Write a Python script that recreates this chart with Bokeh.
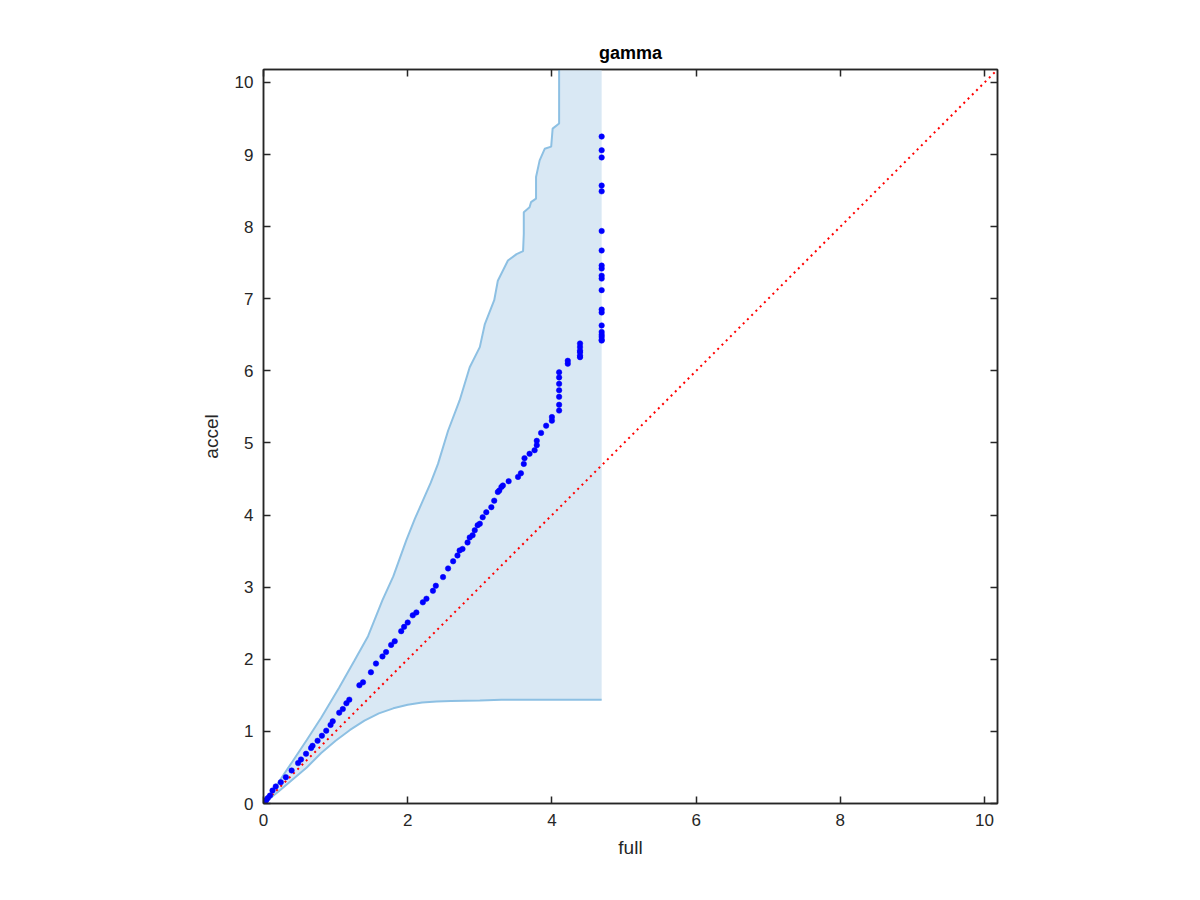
from bokeh.plotting import figure
from bokeh.models import Range1d, LinearAxis, FixedTicker
from bokeh.embed import file_html
from bokeh.resources import INLINE

# ---------------- data ----------------
x_max = 10.18
y_max = 10.18
diag = [0, 10.18]

upper_x = [0, 0.2, 0.4, 0.6, 0.8, 1.05, 1.26, 1.45, 1.65, 1.80, 1.98, 2.10, 2.21, 2.32,
           2.42, 2.56, 2.72, 2.86, 3.00, 3.07, 3.20, 3.25, 3.39, 3.51, 3.60, 3.61, 3.61,
           3.69, 3.71, 3.78, 3.78, 3.83, 3.90, 3.99, 4.01, 4.10, 4.10]
upper_y = [0, 0.28, 0.58, 0.88, 1.19, 1.61, 1.98, 2.32, 2.82, 3.15, 3.65, 3.95, 4.20, 4.45,
           4.71, 5.17, 5.59, 6.05, 6.33, 6.65, 6.98, 7.25, 7.53, 7.62, 7.66, 7.90, 8.20,
           8.27, 8.34, 8.39, 8.69, 8.92, 9.08, 9.11, 9.36, 9.43, 10.8]

lower_x = [0, 0.2, 0.4, 0.6, 0.8, 1.0, 1.2, 1.4, 1.6, 1.8, 2.0, 2.2, 2.4, 2.6, 2.8, 3.0, 3.3, 4.69]
lower_y = [0, 0.16, 0.33, 0.50, 0.70, 0.87, 1.02, 1.15, 1.25, 1.32, 1.37, 1.40, 1.415, 1.42,
           1.425, 1.43, 1.44, 1.44]

pts_x = [0.0, 0.02, 0.04, 0.06, 0.09, 0.125, 0.17, 0.24, 0.31, 0.39, 0.48, 0.52, 0.59, 0.66,
         0.68, 0.75, 0.81, 0.87, 0.93, 0.96, 1.05, 1.10, 1.15, 1.19, 1.33, 1.38, 1.49, 1.56,
         1.65, 1.70, 1.77, 1.82, 1.91, 1.95, 2.00, 2.07, 2.12, 2.21, 2.26, 2.35, 2.39, 2.49,
         2.56, 2.63, 2.69, 2.72, 2.76, 2.83, 2.86, 2.90, 2.93, 2.97, 3.00, 3.04, 3.09, 3.16,
         3.20, 3.25, 3.27, 3.30, 3.32, 3.40, 3.53, 3.57, 3.61, 3.62, 3.69, 3.76, 3.79, 3.79,
         3.85, 3.92, 4.00, 4.00, 4.10, 4.10, 4.10, 4.10, 4.10, 4.10, 4.10, 4.22, 4.22,
         4.39, 4.39, 4.39, 4.39, 4.39, 4.39,
         4.69, 4.69, 4.69, 4.69, 4.69, 4.69, 4.69, 4.69, 4.69, 4.69, 4.69, 4.69, 4.69,
         4.69, 4.69, 4.69, 4.69, 4.69, 4.69, 4.69]
pts_y = [0.0, 0.025, 0.05, 0.075, 0.11, 0.18, 0.236, 0.295, 0.365, 0.458, 0.56, 0.61, 0.69,
         0.77, 0.80, 0.87, 0.94, 1.01, 1.09, 1.14, 1.26, 1.31, 1.39, 1.44, 1.64, 1.68, 1.82,
         1.94, 2.04, 2.10, 2.20, 2.25, 2.39, 2.45, 2.51, 2.61, 2.65, 2.79, 2.84, 2.95, 3.02,
         3.14, 3.26, 3.36, 3.44, 3.51, 3.53, 3.62, 3.69, 3.72, 3.79, 3.86, 3.88, 3.97, 4.04,
         4.11, 4.20, 4.32, 4.34, 4.39, 4.41, 4.47, 4.53, 4.58, 4.71, 4.79, 4.85, 4.90, 4.97,
         5.03, 5.14, 5.24, 5.31, 5.36, 5.45, 5.53, 5.64, 5.73, 5.82, 5.91, 5.98, 6.10, 6.14,
         6.19, 6.21, 6.26, 6.28, 6.33, 6.38,
         6.42, 6.43, 6.47, 6.50, 6.54, 6.63, 6.81, 6.85, 7.12, 7.28, 7.32, 7.42, 7.46,
         7.67, 7.94, 8.49, 8.57, 8.96, 9.06, 9.25]

x_ticks = [0, 2, 4, 6, 8, 10]
y_ticks = [0, 1, 2, 3, 4, 5, 6, 7, 8, 9, 10]

# ---------------- figure ----------------
FONT = "Liberation Sans"
AX_COLOR = "#262626"

BL, BR, BT, BB = 263, 187, 69, 81
p = figure(frame_width=734, frame_height=734,
           min_border_left=BL, min_border_right=BR,
           min_border_top=BT, min_border_bottom=BB,
           x_range=Range1d(0, x_max), y_range=Range1d(0, y_max),
           output_backend="svg", toolbar_location=None,
           title="gamma")
p.width = BL + 734 + BR
p.height = BT + 734 + BB

p.title.align = "center"
p.title.text_font = FONT
p.title.text_font_size = "18px"
p.title.text_font_style = "bold"
p.title.text_color = "#000000"
p.title.standoff = 14

p.xgrid.visible = False
p.ygrid.visible = False
p.outline_line_color = AX_COLOR
p.outline_line_width = 1.5
p.background_fill_color = "white"
p.border_fill_color = "white"

# envelope
env_right = max(lower_x)
env_top = max(upper_y)
poly_x = upper_x + [env_right] + lower_x[::-1]
poly_y = upper_y + [env_top] + lower_y[::-1]
p.patch(poly_x, poly_y, fill_color="#d9e8f4", line_color=None)
p.line(upper_x, upper_y, line_color="#8dc0e3", line_width=2)
p.line(lower_x, lower_y, line_color="#8dc0e3", line_width=2)

# reference diagonal
p.line(diag, diag, line_color="#ff0000", line_width=2, line_dash="2 4")

# qq points
p.scatter(pts_x, pts_y, size=5.5, fill_color="#0000ff", line_color="#0000ff", line_width=0.5)

def style_axis(ax, labels=True):
    ax.major_tick_in = 7
    ax.major_tick_out = 0
    ax.minor_tick_in = 0
    ax.minor_tick_out = 0
    ax.axis_line_color = AX_COLOR
    ax.axis_line_width = 1.5
    ax.major_tick_line_color = AX_COLOR
    ax.major_tick_line_width = 1.5
    ax.major_label_text_font = FONT
    ax.major_label_text_font_size = "17px"
    ax.major_label_text_color = AX_COLOR if labels else None
    ax.axis_label_text_font = FONT
    ax.axis_label_text_font_size = "19px"
    ax.axis_label_text_font_style = "normal"
    ax.axis_label_text_color = AX_COLOR

xa = p.xaxis[0]
xa.ticker = FixedTicker(ticks=x_ticks)
xa.axis_label = "full"
style_axis(xa)
xa.major_label_standoff = 10
xa.axis_label_standoff = 8

ya = p.yaxis[0]
ya.ticker = FixedTicker(ticks=y_ticks)
ya.axis_label = "accel"
style_axis(ya)
ya.major_label_standoff = 10
ya.axis_label_standoff = 10

top = LinearAxis(ticker=FixedTicker(ticks=x_ticks))
style_axis(top, labels=False)
top.major_label_text_font_size = "0px"
top.major_label_standoff = 0
p.add_layout(top, "above")

right = LinearAxis(ticker=FixedTicker(ticks=y_ticks))
style_axis(right, labels=False)
right.major_label_text_font_size = "0px"
right.major_label_standoff = 0
p.add_layout(right, "right")

open("out.html", "w").write(file_html(p, INLINE))
